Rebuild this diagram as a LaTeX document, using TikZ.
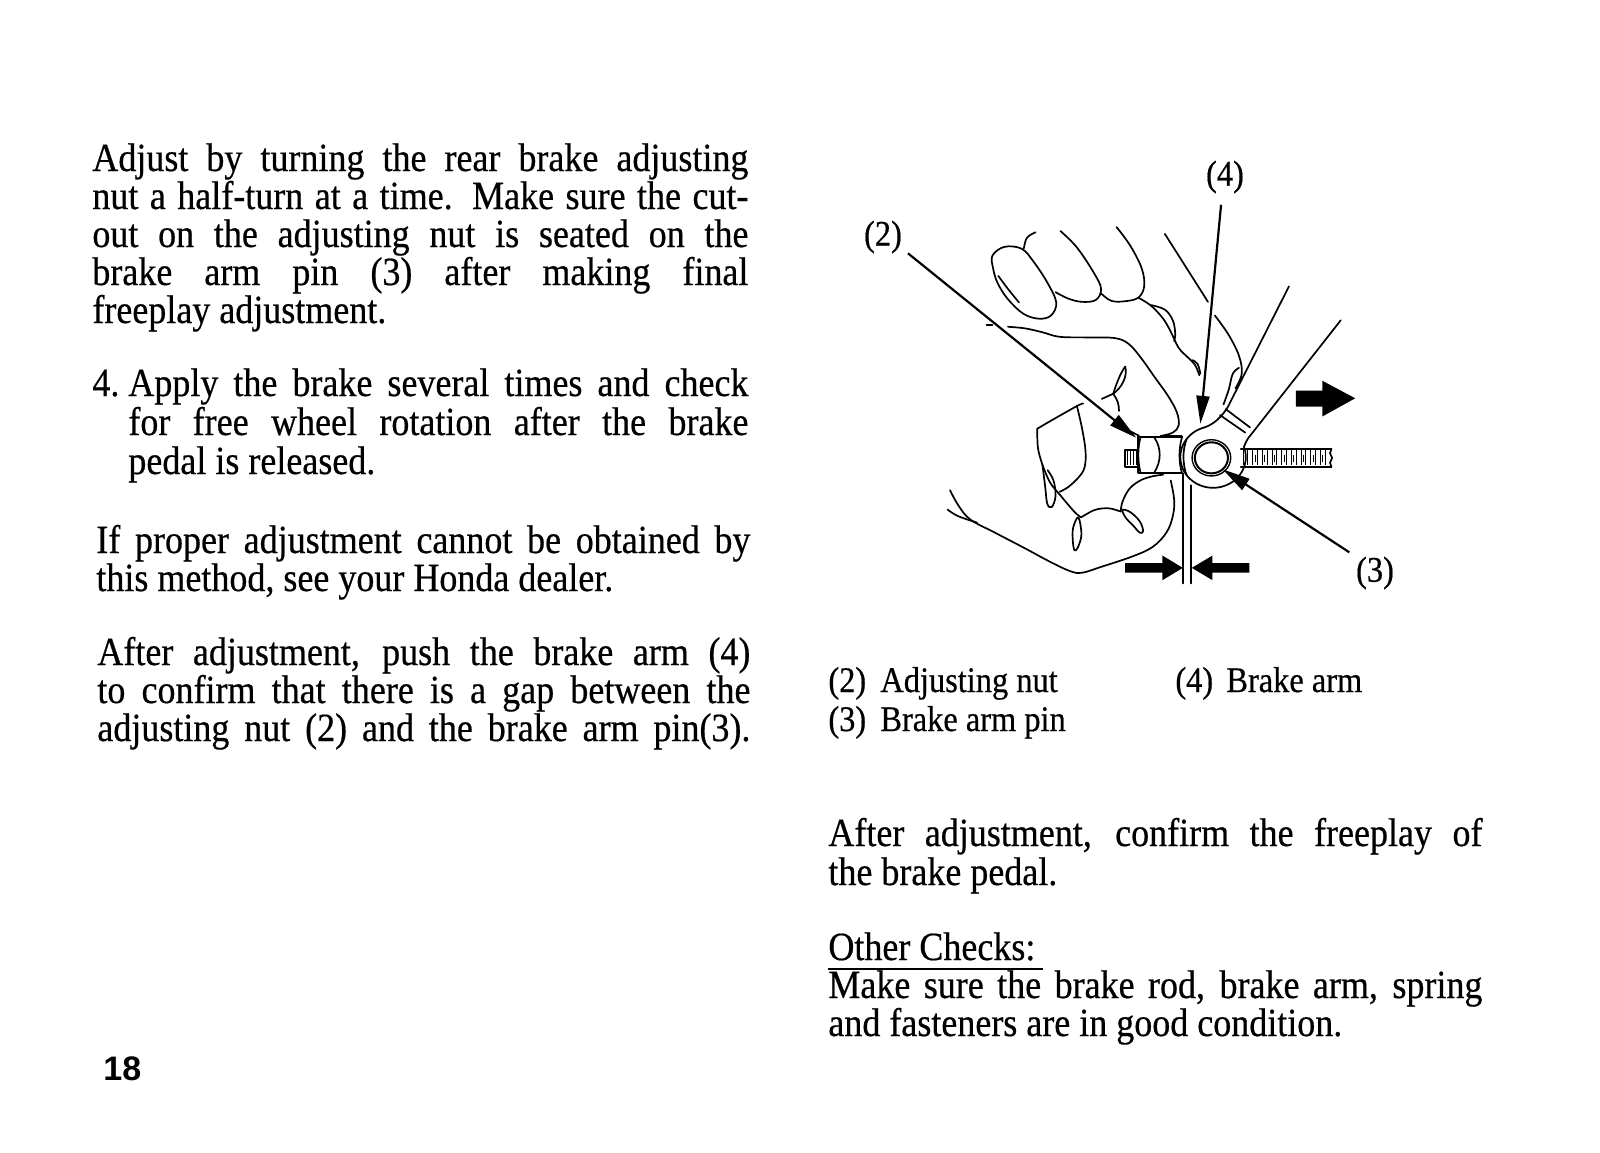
\documentclass[tikz,border=0pt]{standalone}
\usepackage{fontspec}
\setmainfont{Liberation Serif}[FakeStretch=0.9,FakeBold=0.5]
\setsansfont{Liberation Sans}
\usetikzlibrary{arrows.meta}
\newcommand\jline[2]{\makebox[#1][s]{#2}}
\begin{document}
\begin{tikzpicture}[x=0.5pt,y=-0.5pt,
  body/.style={anchor=base west, inner sep=0pt, font=\fontsize{20pt}{24pt}\selectfont},
  legend/.style={anchor=base west, inner sep=0pt, font=\fontsize{18pt}{22pt}\selectfont},
  callout/.style={inner sep=0pt, font=\fontsize{18pt}{22pt}\selectfont},
  leader/.style={line width=1.1pt, -{Triangle[length=14pt,width=6.5pt]}},
  hand/.style={line width=0.85pt, line cap=round, line join=round},
  thread/.style={line width=0.5pt},
  solidarrow/.style={fill=black, draw=none}]
\useasboundingbox (0,0) rectangle (1600,1152);

% ---------------- left column ----------------
\node[body] (p1a) at (92,171) {\jline{328pt}{Adjust by turning the rear brake adjusting}};
\node[body] (p1b) at (92,209) {\jline{328pt}{nut a half-turn at a time. Make sure the cut-}};
\node[body] (p1c) at (92,247) {\jline{328pt}{out on the adjusting nut is seated on the}};
\node[body] (p1d) at (92,285) {\jline{328pt}{brake arm pin (3) after making final}};
\node[body] (p1e) at (92,323) {freeplay adjustment.};

\node[body] (n4) at (92,396) {4.};
\node[body] (p2a) at (128,396) {\jline{310pt}{Apply the brake several times and check}};
\node[body] (p2b) at (128,435) {\jline{310pt}{for free wheel rotation after the brake}};
\node[body] (p2c) at (128,474) {pedal is released.};

\node[body] (p3a) at (96,553) {\jline{327pt}{If proper adjustment cannot be obtained by}};
\node[body] (p3b) at (96,591) {this method, see your Honda dealer.};

\node[body] (p4a) at (97,665) {\jline{326.5pt}{After adjustment, push the brake arm (4)}};
\node[body] (p4b) at (97,703) {\jline{326.5pt}{to confirm that there is a gap between the}};
\node[body] (p4c) at (97,741) {\jline{326.5pt}{adjusting nut (2) and the brake arm pin(3).}};

\node[anchor=base west, inner sep=0pt, font=\sffamily\bfseries\fontsize{17pt}{20pt}\selectfont] (pg) at (103,1080) {18};

% ---------------- right column ----------------
\node[legend] (k2) at (828,692) {(2)};
\node[legend] (k2t) at (880,692) {Adjusting nut};
\node[legend] (k4) at (1175,692) {(4)};
\node[legend] (k4t) at (1226,692) {Brake arm};
\node[legend] (k3) at (828,731) {(3)};
\node[legend] (k3t) at (880,731) {Brake arm pin};

\node[body] (r1a) at (828,846) {\jline{327pt}{After adjustment, confirm the freeplay of}};
\node[body] (r1b) at (828,885) {the brake pedal.};

\node[body] (oc) at (828,960) {Other Checks:};
\draw[line width=1.1pt] (828,969) -- (1043,969);
\node[body] (r2a) at (828,998) {\jline{327pt}{Make sure the brake rod, brake arm, spring}};
\node[body] (r2b) at (828,1036) {and fasteners are in good condition.};

% ---------------- illustration ----------------
\node[callout] (l2) at (883,237) {(2)};
\node[callout] (l4) at (1225,177) {(4)};
\node[callout] (l3) at (1375,573) {(3)};

\begin{scope}[shift={(419.5pt,-75.2pt)}, x=0.17241pt, y=-0.16181pt]
  % upper hand fingers
  \draw[hand] plot[smooth cycle, tension=0.6] coordinates {(445,325) (480,298) (530,304) (565,345) (605,410) (630,470) (615,510) (580,520) (535,505) (490,460) (460,410) (447,365)};
  \draw[hand] plot[smooth, tension=0.6] coordinates {(462,388) (490,428) (522,470)};
  \draw[hand] plot[smooth, tension=0.6] coordinates {(536,303) (545,270) (570,253)};
  \draw[hand] plot[smooth, tension=0.6] coordinates {(642,249) (690,300) (740,380) (760,428) (745,462) (705,468) (665,458) (628,438)};
  \draw[hand] plot[smooth, tension=0.6] coordinates {(805,237) (845,295) (878,365) (885,420) (868,455) (830,466) (790,465) (760,442)};
  \draw[hand] plot[smooth, tension=0.6] coordinates {(868,455) (905,480) (940,520) (962,560) (985,610) (1010,638) (1032,662) (1045,695)};
  \draw[hand] plot[smooth, tension=0.6] coordinates {(905,478) (945,492) (968,525) (975,565) (972,590)};
  \draw[hand] plot[smooth, tension=0.6] coordinates {(1025,648) (1040,660) (1048,690)};
  \draw[hand] (945,258) -- (1070,468);
  \draw[hand] plot[smooth, tension=0.6] coordinates {(1090,510) (1130,570) (1160,635) (1168,690) (1150,735)};
  \draw[hand] plot[smooth, tension=0.6] coordinates {(1160,672) (1142,690) (1130,740) (1115,785)};
  % upper thumb pressing the nut
  \draw[hand] (428,540) -- (445,540);
  \draw[hand] plot[smooth, tension=0.6] coordinates {(490,545) (540,550) (590,562) (640,576) (720,578) (800,580) (840,598) (875,640) (915,700) (955,760) (980,810) (985,850) (968,872) (935,882)};
  \draw[hand] (845,868) -- (870,882);
  % fingertip pointing up
  \draw[hand] (830,668) .. controls (838,700) and (818,735) .. (795,752);
  \draw[hand] (830,668) .. controls (815,690) and (805,720) .. (795,752);
  \draw[hand] (795,752) -- (762,768);
  \draw[hand] (795,752) .. controls (808,770) and (812,785) .. (812,805);
  % lower hand
  \draw[hand] plot[smooth, tension=0.6] coordinates {(575,860) (620,832) (690,790) (708,782)};
  \draw[hand] plot[smooth, tension=0.6] coordinates {(690,790) (705,860) (715,930) (712,980) (695,1010) (665,1040) (640,1055)};
  \draw[hand] plot[smooth, tension=0.6] coordinates {(575,860) (577,920) (590,972)};
  \draw[hand] plot[smooth, tension=0.6] coordinates {(590,972) (598,1040) (604,1092) (617,1102) (628,1068) (622,1020) (605,988)};
  \draw[hand] plot[smooth, tension=0.6] coordinates {(590,972) (612,1026) (642,1066) (682,1116) (702,1134)};
  \draw[hand] plot[smooth, tension=0.6] coordinates {(702,1134) (742,1111) (782,1106) (817,1116)};
  \draw[hand] plot[smooth, tension=0.6] coordinates {(817,1116) (822,1086) (842,1046) (872,1021) (905,1008) (940,1002)};
  \draw[hand] plot[smooth cycle, tension=0.6] coordinates {(822,1111) (845,1118) (872,1146) (882,1176) (872,1181) (852,1158) (832,1136)};
  \draw[hand] plot[smooth cycle, tension=0.6] coordinates {(694,1134) (703,1186) (693,1226) (683,1236) (678,1206) (679,1166)};
  \draw[hand] plot[smooth, tension=0.6] coordinates {(322,1050) (345,1095) (380,1140) (450,1180) (540,1230) (610,1270) (670,1300) (705,1305) (760,1287) (850,1255) (910,1225) (950,1180) (968,1130) (972,1080) (962,1020)};
  \draw[hand] plot[smooth, tension=0.6] coordinates {(315,1110) (345,1130) (400,1150)};

  % brake arm and eye
  \draw[hand] (1060,856) arc[start angle=254.8, end angle=-20.1, radius=95];
  \draw[hand] (1060,856) .. controls (1090,845) and (1112,820) .. (1128,792) -- (1305,420);
  \draw[hand] (1175,915) .. controls (1180,900) and (1185,890) .. (1195,878) -- (1455,525);
  \draw[hand] (1105,818) -- (1178,872);
  \draw[hand] (1122,800) -- (1192,856);
  \draw[line width=0.7pt] (1080,950) circle[radius=56];
  \draw[line width=1pt] (1080,950) circle[radius=48];

  % rod
  \draw[hand] (868,925) -- (830,925) -- (830,978) -- (868,978);
  \foreach \xx in {838,846,854,862} \draw[thread] (\xx,930) -- (\xx,973);
  \draw[hand] (1165,922) -- (1428,922);
  \draw[hand] (1165,978) -- (1428,978);
  \draw[hand] (1428,922) -- (1424,936) -- (1430,950) -- (1424,965) -- (1428,978);
  \foreach \xx in {1172,1186,...,1418} \draw[thread] (\xx,927) -- (\xx,973);
  \foreach \xx in {1179,1207,...,1418} \draw[thread] (\xx,940) -- (\xx,962);

  % nut and collar
  \draw[hand] (868,885) -- (868,995);
  \draw[hand] (868,885) -- (995,885);
  \draw[hand] (868,997) -- (995,997);
  \draw[line width=1.8pt] (930,884) -- (995,884);
  \draw[hand] (874,888) .. controls (866,920) and (866,960) .. (874,994);
  \draw[hand] (915,888) .. controls (935,920) and (935,960) .. (915,994);
  \draw[hand] (995,885) .. controls (985,920) and (985,965) .. (995,998);
  \draw[hand] (1008,893) .. controls (996,925) and (996,968) .. (1008,1004);

  % gap lines
  \draw[hand] (998,998) -- (998,1338);
  \draw[hand] (1020,1035) -- (1020,1338);

  % solid arrows
  \fill[solidarrow] (1325,742) -- (1402,742) -- (1402,712) -- (1497,766) -- (1402,822) -- (1402,792) -- (1325,792) -- cycle;
  \fill[solidarrow] (830,1275) -- (938,1275) -- (938,1252) -- (997,1290) -- (938,1328) -- (938,1305) -- (830,1305) -- cycle;
  \fill[solidarrow] (1190,1275) -- (1083,1275) -- (1083,1252) -- (1023,1290) -- (1083,1328) -- (1083,1305) -- (1190,1305) -- cycle;

  % leader ends
  \coordinate (s2) at (200,318);
  \coordinate (t2) at (862,888);
  \coordinate (s4) at (1108,168);
  \coordinate (t4) at (1048,845);
  \coordinate (s3) at (1480,1242);
  \coordinate (t3) at (1112,985);
\end{scope}

\draw[leader] (s2) -- (t2);
\draw[leader] (s4) -- (t4);
\draw[leader] (s3) -- (t3);
\end{tikzpicture}
\end{document}
